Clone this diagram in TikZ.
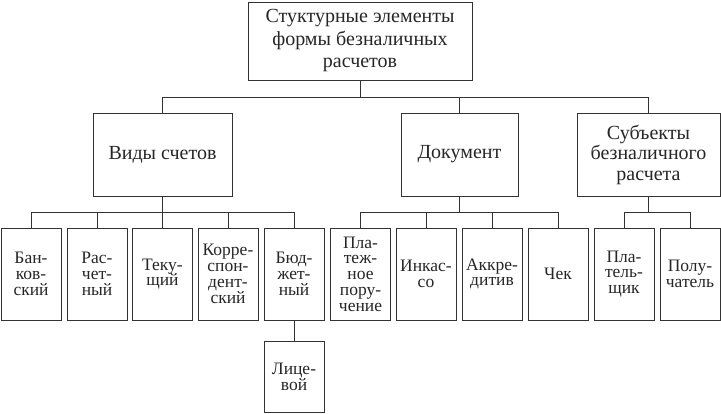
\documentclass[tikz,border=0pt]{standalone}
\usepackage{fontspec}
\setmainfont{Liberation Serif}
\begin{document}
\begin{tikzpicture}[x=1pt,y=-1pt,
  line width=0.9pt,
  box/.style={draw=black!80, inner sep=0pt, align=center, text=black!85},
  big/.style={box, font=\fontsize{20}{22.5}\selectfont},
  small/.style={box, minimum width=60pt, minimum height=92pt, font=\fontsize{17.5}{15.8}\selectfont},
  link/.style={draw=black!80}]
\useasboundingbox (0,0) rectangle (721,413);
% level 1
\node[big, minimum width=224pt, minimum height=78pt] (top) at (360,41) {Стуктурные элементы\\формы безналичных\\расчетов};
% level 2
\node[big, minimum width=139pt, minimum height=83pt] (vid) at (162.5,154.5) {Виды счетов};
\node[big, minimum width=117pt, minimum height=83pt] (doc) at (459.5,154.5) {Документ};
\node[big, minimum width=143pt, minimum height=83pt, font=\fontsize{20}{20.5}\selectfont] (subj) at (648.5,154.5) {Субъекты\\безналичного\\расчета};
% level 3
\node[small] (bank) at (31,274) {Бан-\\ков-\\ский};
\node[small] (rasch) at (97,274) {Рас-\\чет-\\ный};
\node[small] (tek) at (162.5,274) {Теку-\\щий};
\node[small] (korr) at (228,274) {Корре-\\спон-\\дент-\\ский};
\node[small] (budj) at (294,274) {Бюд-\\жет-\\ный};
\node[small] (plat) at (360.5,274) {Пла-\\теж-\\ное\\пору-\\чение};
\node[small] (ink) at (426,274) {Инкас-\\со};
\node[small] (akkr) at (492,274) {Аккре-\\дитив};
\node[small] (chek) at (558,274) {Чек};
\node[small] (platel) at (624,274) {Пла-\\тель-\\щик};
\node[small] (pol) at (690,274) {Полу-\\чатель};
% level 4
\node[small, minimum height=71pt] (lic) at (294,376.5) {Лице-\\вой};
% buses
\coordinate (bus1) at (0,97);
\coordinate (bus2) at (0,212.5);
% connectors level 1 -> 2
\draw[link] (top.south) -- (top.south |- bus1);
\draw[link] (vid.north) |- (bus1 -| subj.north) -- (subj.north);
\draw[link] (doc.north) -- (doc.north |- bus1);
% Виды счетов
\draw[link] (vid.south) -- (vid.south |- bus2);
\draw[link] (bank.north) |- (bus2 -| budj.north) -- (budj.north);
\draw[link] (rasch.north) -- (rasch.north |- bus2);
\draw[link] (tek.north) -- (tek.north |- bus2);
\draw[link] (korr.north) -- (korr.north |- bus2);
\draw[link] (budj.south) -- (lic.north);
% Документ
\draw[link] (doc.south) -- (doc.south |- bus2);
\draw[link] (plat.north) |- (bus2 -| chek.north) -- (chek.north);
\draw[link] (ink.north) -- (ink.north |- bus2);
\draw[link] (akkr.north) -- (akkr.north |- bus2);
% Субъекты
\draw[link] (subj.south) -- (subj.south |- bus2);
\draw[link] (platel.north) |- (bus2 -| pol.north) -- (pol.north);
\end{tikzpicture}
\end{document}
